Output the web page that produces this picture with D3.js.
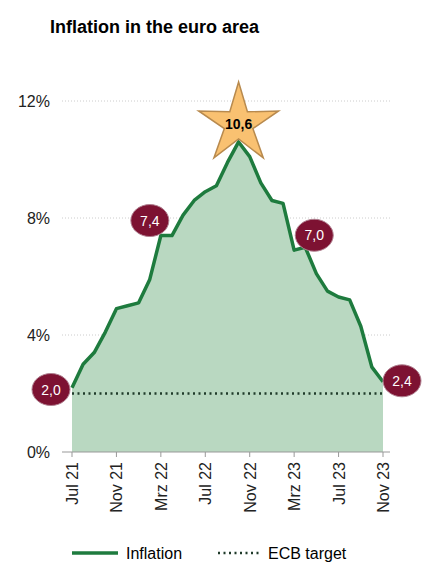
<!DOCTYPE html><html><head><meta charset="utf-8"><script src="https://cdn.jsdelivr.net/npm/d3@7"></script>
<style>body{margin:0;background:#fff}text{font-family:"Liberation Sans",Arial,sans-serif}</style></head><body>
<svg id="c" width="439" height="576"></svg>
<script>
const months=["Jul 21","Aug 21","Sep 21","Okt 21","Nov 21","Dez 21","Jan 22","Feb 22","Mrz 22","Apr 22","Mai 22","Jun 22","Jul 22","Aug 22","Sep 22","Okt 22","Nov 22","Dez 22","Jan 23","Feb 23","Mrz 23","Apr 23","Mai 23","Jun 23","Jul 23","Aug 23","Sep 23","Okt 23","Nov 23"];
const inflation=[2.2,3.0,3.4,4.1,4.9,5.0,5.1,5.9,7.4,7.4,8.1,8.6,8.9,9.1,9.9,10.6,10.1,9.2,8.6,8.5,6.9,7.0,6.1,5.5,5.3,5.2,4.3,2.9,2.4];
const target=2.0;
const tickLabels=["Jul 21","Nov 21","Mrz 22","Jul 22","Nov 22","Mrz 23","Jul 23","Nov 23"];
const yTicks=[0,4,8,12];
const callouts=[{i:0,v:2.0,t:"2,0",dx:-21,dy:-4},{i:8,v:7.4,t:"7,4",dx:-11,dy:-15},{i:21,v:7.0,t:"7,0",dx:9,dy:-12},{i:28,v:2.4,t:"2,4",dx:19,dy:-1}];
const svg=d3.select("#c");
const x=d3.scalePoint().domain(months).range([72,383]);
const y=d3.scaleLinear().domain([0,12]).range([452,101]);
svg.append("text").attr("x",50).attr("y",33).attr("font-size",18).attr("font-weight","bold").text("Inflation in the euro area");
yTicks.forEach(t=>{
 if(t>0)svg.append("line").attr("x1",62).attr("x2",390).attr("y1",y(t)).attr("y2",y(t)).attr("stroke","#ccc").attr("stroke-dasharray","1,2");
 svg.append("text").attr("x",50).attr("y",y(t)+6).attr("text-anchor","end").attr("font-size",16).attr("fill","#222").text(t+"%");
});
svg.append("path").datum(inflation).attr("fill","#b9d8c1").attr("d",d3.area().x((d,i)=>x(months[i])).y0(y(0)).y1(d=>y(d)));
svg.append("line").attr("x1",62).attr("x2",390).attr("y1",y(0)).attr("y2",y(0)).attr("stroke","#999");
svg.append("path").datum(months).attr("fill","none").attr("stroke","#1f3a2a").attr("stroke-width",2.5).attr("stroke-dasharray","2,3.5").attr("d",d3.line().x(d=>x(d)).y(()=>y(target)));
svg.append("path").datum(inflation).attr("fill","none").attr("stroke","#1e7b3e").attr("stroke-width",3.5).attr("stroke-linejoin","round").attr("d",d3.line().x((d,i)=>x(months[i])).y(d=>y(d)));
tickLabels.forEach(m=>{
 svg.append("line").attr("x1",x(m)).attr("x2",x(m)).attr("y1",y(0)).attr("y2",y(0)+5).attr("stroke","#999");
 svg.append("text").attr("transform",`translate(${x(m)+6},${y(0)+10}) rotate(-90)`).attr("text-anchor","end").attr("font-size",16).attr("fill","#222").text(m);
});
callouts.forEach(c=>{
 const cx=x(months[c.i])+c.dx, cy=y(c.v)+c.dy;
 svg.append("ellipse").attr("cx",cx).attr("cy",cy).attr("rx",19).attr("ry",16).attr("fill","#7d1232").attr("stroke","#b08090").attr("stroke-width",1);
 svg.append("text").attr("x",cx).attr("y",cy+5).attr("text-anchor","middle").attr("font-size",14).attr("fill","#fff").text(c.t);
});
const pi=inflation.indexOf(d3.max(inflation));
const sx=x(months[pi]), sy=y(inflation[pi])-23;
const pts=d3.range(10).map(k=>{const r=k%2?15:42,a=-Math.PI/2+k*Math.PI/5;return [sx+r*Math.cos(a),sy+r*Math.sin(a)+5];});
svg.append("polygon").attr("points",pts.map(p=>p.join(",")).join(" ")).attr("fill","#f9c171").attr("stroke","#b88a4e").attr("stroke-width",1.5);
svg.append("text").attr("x",sx).attr("y",sy+10).attr("text-anchor","middle").attr("font-size",14).attr("font-weight","bold").text("10,6");
svg.append("line").attr("x1",72).attr("x2",118).attr("y1",553).attr("y2",553).attr("stroke","#1e7b3e").attr("stroke-width",3.5);
svg.append("text").attr("x",126).attr("y",559).attr("font-size",16).text("Inflation");
svg.append("line").attr("x1",218).attr("x2",262).attr("y1",553).attr("y2",553).attr("stroke","#1f3a2a").attr("stroke-width",2.5).attr("stroke-dasharray","2,3.5");
svg.append("text").attr("x",268).attr("y",559).attr("font-size",16).text("ECB target");
</script></body></html>
